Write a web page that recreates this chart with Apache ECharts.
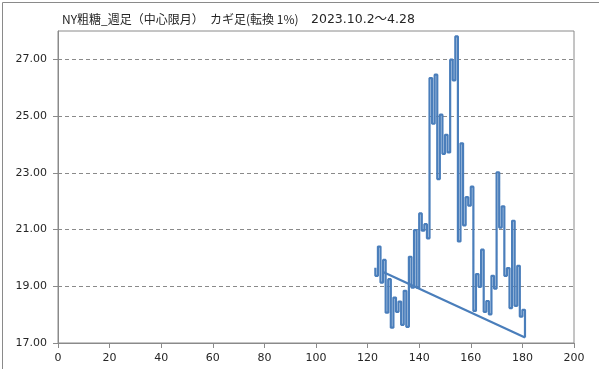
<!DOCTYPE html>
<html><head><meta charset="utf-8">
<script src="https://cdn.jsdelivr.net/npm/echarts@6/dist/echarts.min.js"></script>
<style>html,body{margin:0;padding:0;background:#fff}#c{width:599px;height:369px}</style>
</head><body><div id="c"></div>
<script>
// Kagi path: start point, then each vertical stroke at an X position ending at a level
const startX = 123;
const startLevel = 19.65;
const strokeX = [123,124,125,126,127,128,129,130,131,132,133,134,135,136,137,138,139,140,141,142,
  143,144,145,146,147,148,149,150,151,152,153,154,155,156,157,158,159,160,161,162,
  163,164,165,166,167,168,169,170,171,172,173,174,175,176,177,178,179,180,181];
const strokeEnd = [19.37,20.40,19.13,19.93,18.07,19.25,17.54,18.60,18.10,18.46,17.64,18.84,17.57,20.04,18.95,20.98,18.95,21.57,20.96,21.19,
  20.69,26.34,24.73,26.46,22.78,25.05,23.67,24.34,23.72,26.99,26.26,27.81,20.58,24.04,21.15,22.14,21.84,22.51,18.13,19.43,
  18.98,20.29,18.10,18.48,18.01,19.37,18.92,23.02,21.07,21.82,19.37,19.64,18.23,21.31,18.31,19.72,17.93,18.17,17.19];
// Connecting line
const lineX = [126, 181];
const lineY = [19.50, 17.19];
const xTicks = [0,20,40,60,80,100,120,140,160,180,200];
const yTicks = [17,19,21,23,25,27];
const titleParts = ['NY粗糖_週足（中心限月）', 'カギ足(転換 1%)', '2023.10.2～4.28'];

const path = [[startX, startLevel]];
for (let i = 0; i < strokeX.length; i++) {
  path.push([strokeX[i], strokeEnd[i]]);
  if (i + 1 < strokeX.length) path.push([strokeX[i + 1], strokeEnd[i]]);
}
const trend = lineX.map((x, i) => [x, lineY[i]]);

const chart = echarts.init(document.getElementById('c'), null, {renderer: 'canvas'});
const blue = '#4A7EBB';
const axisTextColor = '#262626';
const font = '"DejaVu Sans", sans-serif';
const cjk = '"Noto Sans CJK JP", sans-serif';
chart.setOption({
  animation: false,
  backgroundColor: '#fff',
  graphic: [
    {type: 'rect', left: 0, top: 0, shape: {x: 0.5, y: 0.5, width: 597, height: 367},
     style: {fill: 'none', stroke: '#8a8a8a', lineWidth: 1}, silent: true},
    {type: 'text', left: 62, top: 13,
     style: {text: titleParts[0], fontSize: 12, fill: '#262626', fontFamily: cjk}},
    {type: 'text', left: 210, top: 13,
     style: {text: titleParts[1], fontSize: 12, fill: '#262626', fontFamily: cjk}},
    {type: 'text', left: 311, top: 13,
     style: {text: titleParts[2], fontSize: 12.5, fill: '#262626', fontFamily: '"DejaVu Sans", "Noto Sans CJK JP", sans-serif'}}
  ],
  grid: {left: 58, right: 25, top: 31, bottom: 26, show: true, borderColor: '#8a8a8a', borderWidth: 1, backgroundColor: 'transparent'},
  xAxis: {
    type: 'value', min: xTicks[0], max: xTicks[xTicks.length - 1], interval: xTicks[1] - xTicks[0],
    axisLine: {show: true, lineStyle: {color: '#8a8a8a', width: 1}},
    axisTick: {show: true, inside: false, length: 5, lineStyle: {color: '#8a8a8a'}},
    axisLabel: {color: axisTextColor, fontSize: 11, fontFamily: font, margin: 10},
    splitLine: {show: false}
  },
  yAxis: {
    type: 'value', min: 17, max: 28, interval: yTicks[1] - yTicks[0],
    axisLine: {show: true, lineStyle: {color: '#8a8a8a', width: 1}},
    axisTick: {show: true, inside: false, length: 5, lineStyle: {color: '#8a8a8a'}},
    axisLabel: {color: axisTextColor, fontSize: 11, fontFamily: font, margin: 11, showMaxLabel: false,
      formatter: v => yTicks.indexOf(v) >= 0 ? v.toFixed(2) : ''},
    splitLine: {show: true, showMinLine: false, showMaxLine: false, lineStyle: {color: '#8a8a8a', type: [4, 3], width: 1}}
  },
  series: [
    {type: 'line', data: path, showSymbol: false, symbol: 'none', lineStyle: {color: blue, width: 2.2}, silent: true},
    {type: 'line', data: trend, showSymbol: false, symbol: 'none', lineStyle: {color: blue, width: 2.2}, silent: true}
  ]
});
</script>
</body></html>
